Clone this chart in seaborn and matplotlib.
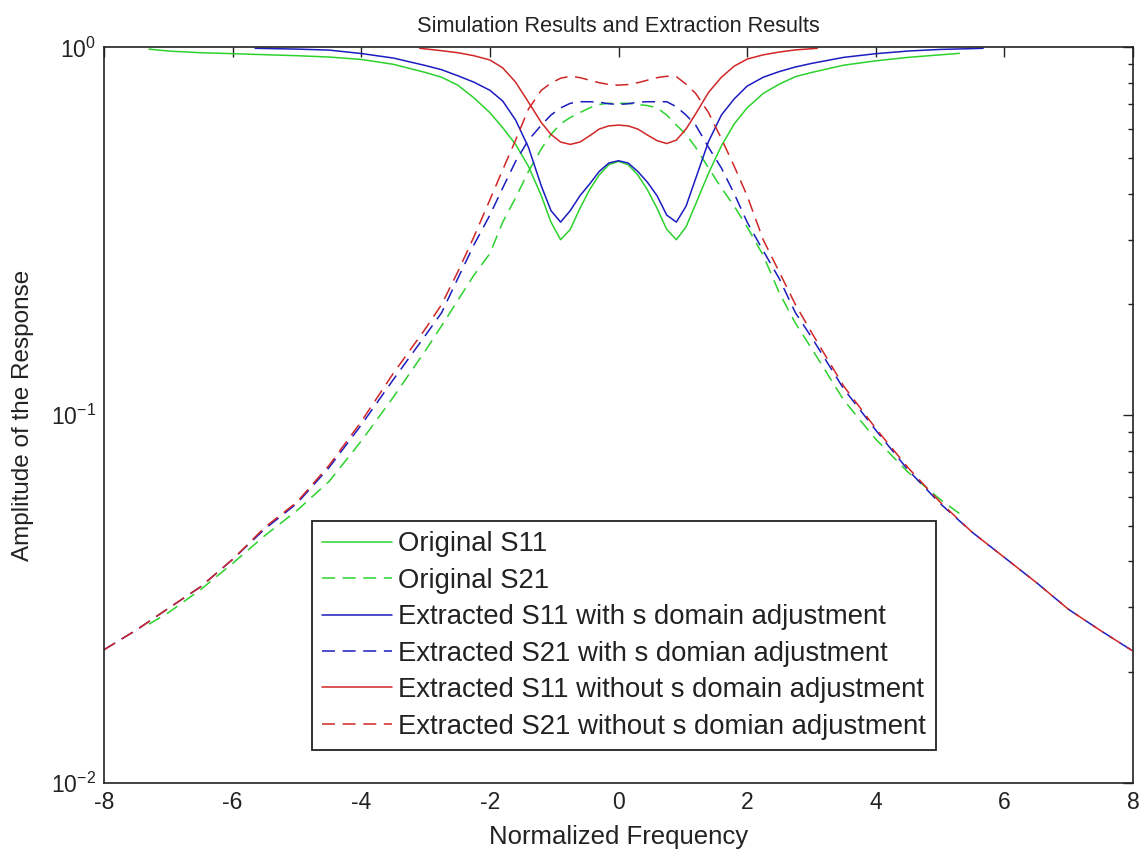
import numpy as np
import pandas as pd
import matplotlib
matplotlib.use("Agg")
import matplotlib.pyplot as plt
import seaborn as sns

# ---------------- data ----------------
x_orig = [-7.3, -7, -6.5, -6, -5.5, -5, -4.5, -4, -3.5, -3, -2.75, -2.5, -2.25, -2,
          -1.8, -1.6, -1.4, -1.2, -1.05, -0.9, -0.75, -0.6, -0.45, -0.3, -0.15, 0,
          0.15, 0.3, 0.45, 0.6, 0.75, 0.9, 1.05, 1.2, 1.4, 1.6, 1.8, 2, 2.25, 2.5,
          2.75, 3, 3.5, 4, 4.5, 5, 5.3]
orig_s11 = [0.99, 0.978, 0.968, 0.962, 0.956, 0.95, 0.942, 0.928, 0.90, 0.855, 0.83,
            0.79, 0.73, 0.665, 0.605, 0.545, 0.475, 0.395, 0.335, 0.30, 0.32, 0.365,
            0.41, 0.45, 0.48, 0.49,
            0.48, 0.45, 0.41, 0.365, 0.32, 0.30, 0.325, 0.375, 0.455, 0.54, 0.62,
            0.685, 0.75, 0.795, 0.833, 0.855, 0.895, 0.92, 0.94, 0.955, 0.964]
orig_s21 = [0.027, 0.029, 0.0335, 0.0395, 0.047, 0.055, 0.066, 0.085, 0.112, 0.15,
            0.175, 0.205, 0.24, 0.275, 0.335, 0.39, 0.46, 0.53, 0.58, 0.62, 0.645,
            0.665, 0.685, 0.70, 0.705, 0.705,
            0.705, 0.70, 0.695, 0.685, 0.655, 0.615, 0.58, 0.535, 0.47, 0.415, 0.37,
            0.325, 0.272, 0.215, 0.178, 0.152, 0.11, 0.086, 0.07, 0.059, 0.054]

x_ext = [-8, -7.5, -7, -6.5, -6, -5.5, -5, -4.5, -4, -3.5, -3, -2.75, -2.5, -2.25, -2,
         -1.8, -1.6, -1.4, -1.2, -1.05, -0.9, -0.75, -0.6, -0.45, -0.3, -0.15, 0,
         0.15, 0.3, 0.45, 0.6, 0.75, 0.9, 1.05, 1.2, 1.4, 1.6, 1.8, 2, 2.25, 2.5,
         2.75, 3, 3.5, 4, 4.5, 5, 5.5, 6, 6.5, 7, 7.5, 8]
ext_s21_with = [0.023, 0.026, 0.0298, 0.0341, 0.0405, 0.049, 0.0575, 0.072, 0.094,
                0.125, 0.165, 0.19, 0.235, 0.29, 0.35, 0.415, 0.49, 0.56, 0.615,
                0.655, 0.685, 0.705, 0.712, 0.712, 0.71, 0.703, 0.70,
                0.703, 0.71, 0.712, 0.712, 0.712, 0.69, 0.655, 0.615, 0.535, 0.47,
                0.40, 0.335, 0.28, 0.235, 0.19, 0.163, 0.118, 0.091, 0.071, 0.0575,
                0.048, 0.041, 0.035, 0.0296, 0.0259, 0.0228]
ext_s21_without = [0.023, 0.026, 0.0298, 0.0341, 0.0405, 0.0495, 0.058, 0.073, 0.096,
                   0.13, 0.172, 0.20, 0.245, 0.305, 0.385, 0.465, 0.56, 0.68, 0.765,
                   0.80, 0.825, 0.835, 0.828, 0.815, 0.802, 0.793, 0.79,
                   0.793, 0.802, 0.815, 0.828, 0.835, 0.833, 0.795, 0.75, 0.665,
                   0.565, 0.475, 0.395, 0.30, 0.245, 0.20, 0.168, 0.12, 0.092, 0.072,
                   0.058, 0.048, 0.041, 0.035, 0.0296, 0.0259, 0.0228]

x_s11_with = [-5.65, -5, -4.5, -4, -3.5, -3, -2.75, -2.5, -2.25, -2, -1.8, -1.6, -1.4,
              -1.2, -1.05, -0.9, -0.75, -0.6, -0.45, -0.3, -0.15, 0,
              0.15, 0.3, 0.45, 0.6, 0.75, 0.9, 1.05, 1.2, 1.4, 1.6, 1.8, 2, 2.25,
              2.5, 2.75, 3, 3.5, 4, 4.5, 5, 5.5, 5.67]
ext_s11_with = [0.995, 0.99, 0.984, 0.963, 0.936, 0.893, 0.87, 0.838, 0.805, 0.765,
                0.715, 0.635, 0.535, 0.42, 0.36, 0.335, 0.36, 0.395, 0.425, 0.46, 0.485,
                0.492,
                0.485, 0.46, 0.43, 0.395, 0.35, 0.335, 0.37, 0.44, 0.555, 0.655, 0.725,
                0.785, 0.83, 0.86, 0.885, 0.905, 0.94, 0.962, 0.978, 0.988, 0.993,
                0.995]

x_s11_without = [-3.09, -2.75, -2.5, -2.25, -2, -1.8, -1.6, -1.4, -1.2, -1.05, -0.9,
                 -0.75, -0.6, -0.45, -0.3, -0.15, 0, 0.15, 0.3, 0.45, 0.6, 0.75, 0.9,
                 1.05, 1.2, 1.4, 1.6, 1.8, 2, 2.25, 2.5, 2.75, 3.09]
ext_s11_without = [0.995, 0.98, 0.968, 0.95, 0.925, 0.88, 0.805, 0.71, 0.625, 0.58,
                   0.553, 0.545, 0.553, 0.575, 0.60, 0.612, 0.615,
                   0.612, 0.60, 0.578, 0.558, 0.548, 0.56, 0.60, 0.66, 0.755, 0.83,
                   0.89, 0.93, 0.955, 0.972, 0.985, 0.995]

labels = ["Original S11", "Original S21",
          "Extracted S11 with s domain adjustment",
          "Extracted S21 with s domian adjustment",
          "Extracted S11 without s domain adjustment",
          "Extracted S21 without s domian adjustment"]

title = "Simulation Results and Extraction Results"
xlabel = "Normalized Frequency"
ylabel = "Amplitude of the Response"
xticks = [-8, -6, -4, -2, 0, 2, 4, 6, 8]

# ---------------- style ----------------
sns.set_theme(style="white")
plt.rcParams["font.family"] = ["Liberation Sans", "DejaVu Sans"]
plt.rcParams["mathtext.fontset"] = "custom"
plt.rcParams["mathtext.rm"] = "Liberation Sans"
plt.rcParams["mathtext.it"] = "Liberation Sans"
plt.rcParams["mathtext.default"] = "regular"
plt.rcParams["axes.unicode_minus"] = False

GREEN = "#2cd22c"
BLUE = "#1c1cc0"
RED = "#d02626"
TXT = "#222222"
LW = 1.1
DASH = (8.5, 5)

fig = plt.figure(figsize=(11.44, 8.56), dpi=100)
ax = fig.add_axes([104 / 1144, 1 - 782.7 / 856, (1133 - 104) / 1144, (782.7 - 47.5) / 856])

series = [
    (x_orig, orig_s11, GREEN, False),
    (x_orig, orig_s21, GREEN, True),
    (x_s11_with, ext_s11_with, BLUE, False),
    (x_ext, ext_s21_with, BLUE, True),
    (x_s11_without, ext_s11_without, RED, False),
    (x_ext, ext_s21_without, RED, True),
]

for (xs, ys, col, dashed), lab in zip(series, labels):
    df = pd.DataFrame({"x": xs, "y": ys})
    sns.lineplot(data=df, x="x", y="y", ax=ax, color=col, linewidth=LW,
                 label=lab, sort=False, estimator=None)
    line = ax.lines[-1]
    if dashed:
        line.set_dashes(DASH)

ax.set_yscale("log")
ax.set_xlim(-8, 8)
ax.set_ylim(0.01, 1)
ax.set_xticks(xticks)
ax.set_xticklabels([str(t) for t in xticks])
ax.xaxis.set_minor_locator(matplotlib.ticker.NullLocator())

ax.tick_params(which="both", direction="in", top=True, right=True,
               colors=TXT, labelcolor=TXT, labelsize=16.5)
ax.tick_params(which="major", length=7, width=1.0, pad=6)
ax.tick_params(which="minor", length=3.5, width=1.0)
for s in ax.spines.values():
    s.set_linewidth(1.2)
    s.set_color(TXT)

ax.set_title(title, fontsize=15.7, color=TXT, pad=11)
ax.set_xlabel(xlabel, fontsize=18.5, color=TXT, labelpad=8)
ax.set_ylabel(ylabel, fontsize=17.5, color=TXT, labelpad=12)

leg = ax.legend(loc="lower left", bbox_to_anchor=(0.202, 0.0445), borderaxespad=0,
                fontsize=19.8, frameon=True, fancybox=False, shadow=False,
                handlelength=2.55, handletextpad=0.2, labelspacing=0.38,
                borderpad=0.38)
leg.get_frame().set_edgecolor(TXT)
leg.get_frame().set_linewidth(1.3)
leg.get_frame().set_alpha(1)
for t in leg.get_texts():
    t.set_color(TXT)

fig.savefig("out.png", dpi=100)
